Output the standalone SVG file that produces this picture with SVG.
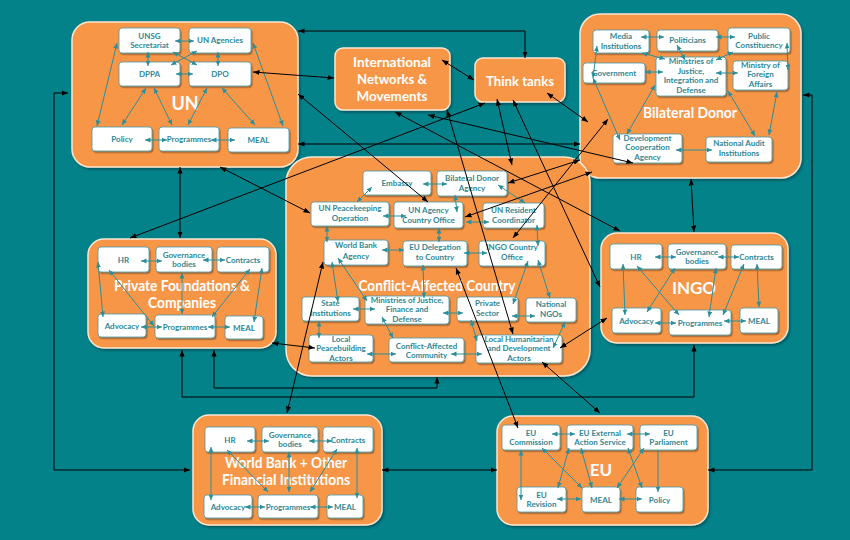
<svg xmlns="http://www.w3.org/2000/svg" width="850" height="540" viewBox="0 0 850 540">
<style>
.bg{fill:#03828A}
.box{fill:#F79646;stroke:#FDE6D2;stroke-width:1.5;filter:url(#shb)}
.ob{fill:#F79646;stroke:#FDE6D2;stroke-width:1.5}
.n{fill:#fff;stroke:#4A97A2;stroke-width:0.8;filter:url(#sh)}
.t{font-family:Lato,"Liberation Sans",sans-serif;font-weight:bold;font-size:8px;fill:#2F8796;text-anchor:middle}
.lbl{font-family:Lato,"Liberation Sans",sans-serif;font-weight:bold;fill:#fff;text-anchor:middle}
.tc{stroke:#2B8E99;stroke-width:1;fill:none;marker-start:url(#ta);marker-end:url(#ta)}
.tc1{stroke:#2B8E99;stroke-width:1;fill:none;marker-end:url(#ta)}
.bc{stroke:#000;stroke-width:1;fill:none;marker-start:url(#ba);marker-end:url(#ba)}
</style>
<defs>
<marker id="ta" viewBox="0 0 10 10" refX="10" refY="5" markerWidth="5.5" markerHeight="5.5" markerUnits="userSpaceOnUse" orient="auto-start-reverse"><path d="M0,0.5 L10,5 L0,9.5 z" fill="#2B8E99"/></marker>
<marker id="ba" viewBox="0 0 10 10" refX="10" refY="5" markerWidth="6.5" markerHeight="6.5" markerUnits="userSpaceOnUse" orient="auto-start-reverse"><path d="M0,1 L10,5 L0,9 z" fill="#000"/></marker>
<filter id="sh" x="-15%" y="-15%" width="135%" height="150%"><feDropShadow dx="1.2" dy="1.5" stdDeviation="0.7" flood-color="#000" flood-opacity="0.35"/></filter>
<filter id="shb" x="-5%" y="-5%" width="112%" height="115%"><feDropShadow dx="1.5" dy="2" stdDeviation="1.2" flood-color="#000" flood-opacity="0.3"/></filter>
</defs>
<rect class="bg" x="0" y="0" width="850" height="540"/>

<!-- UN -->
<g id="un">
<rect class="box" x="72" y="22" width="226" height="145" rx="18"/>
<text class="lbl" x="185" y="110" font-size="18">UN</text>
<g id="un-unsg"><rect class="n" x="119" y="28" width="61" height="25" rx="3"/><text class="t"><tspan x="149.5" y="38.5">UNSG</tspan><tspan x="149.5" y="48">Secretariat</tspan></text></g>
<g id="un-agencies"><rect class="n" x="189" y="28" width="62" height="25" rx="3"/><text class="t" x="220" y="43.2">UN Agencies</text></g>
<g id="un-dppa"><rect class="n" x="119" y="62" width="61" height="24" rx="3"/><text class="t" x="149.5" y="76.7">DPPA</text></g>
<g id="un-dpo"><rect class="n" x="189" y="62" width="62" height="24" rx="3"/><text class="t" x="220" y="76.7">DPO</text></g>
<g id="un-policy"><rect class="n" x="92" y="127" width="60" height="24" rx="3"/><text class="t" x="122" y="141.7">Policy</text></g>
<g id="un-programmes"><rect class="n" x="159" y="127" width="60" height="24" rx="3"/><text class="t" x="189" y="141.7">Programmes</text></g>
<g id="un-meal"><rect class="n" x="228" y="128" width="61" height="24" rx="3"/><text class="t" x="258.5" y="142.7">MEAL</text></g>
</g>

<!-- International Networks -->
<g id="inm">
<rect class="ob" x="335" y="48" width="115" height="62" rx="8" filter="url(#shb)"/>
<text class="lbl" font-size="13.5"><tspan x="392" y="67" textLength="78" lengthAdjust="spacingAndGlyphs">International</tspan><tspan x="392" y="84" textLength="70" lengthAdjust="spacingAndGlyphs">Networks &amp;</tspan><tspan x="392" y="101" textLength="71" lengthAdjust="spacingAndGlyphs">Movements</tspan></text>
</g>

<!-- Think tanks -->
<g id="thinktanks">
<rect class="ob" x="475" y="58" width="90" height="44" rx="8" filter="url(#shb)"/>
<text class="lbl" x="520" y="86" font-size="13.5" textLength="68" lengthAdjust="spacingAndGlyphs">Think tanks</text>
</g>

<!-- Bilateral Donor -->
<g id="bd">
<rect class="box" x="580" y="14" width="221" height="164" rx="20"/>
<text class="lbl" x="690" y="118" font-size="15" textLength="94" lengthAdjust="spacingAndGlyphs">Bilateral Donor</text>
<g id="bd-media"><rect class="n" x="593" y="30" width="56" height="23" rx="3"/><text class="t"><tspan x="621" y="39">Media</tspan><tspan x="621" y="48.5">Institutions</tspan></text></g>
<g id="bd-politicians"><rect class="n" x="657" y="30" width="61" height="21" rx="3"/><text class="t" x="687.5" y="43.2">Politicians</text></g>
<g id="bd-public"><rect class="n" x="728" y="28" width="62" height="25" rx="3"/><text class="t"><tspan x="759" y="38.5">Public</tspan><tspan x="759" y="48">Constituency</tspan></text></g>
<g id="bd-government"><rect class="n" x="583" y="63" width="62" height="20" rx="3"/><text class="t" x="614" y="75.7">Government</text></g>
<g id="bd-ministries"><rect class="n" x="656" y="57" width="70" height="39" rx="3"/><text class="t"><tspan x="691" y="64.4">Ministries of</tspan><tspan x="691" y="73.8">Justice,</tspan><tspan x="691" y="83.2">Integration and</tspan><tspan x="691" y="92.6">Defense</tspan></text></g>
<g id="bd-mfa"><rect class="n" x="733" y="61" width="55" height="29" rx="3"/><text class="t"><tspan x="760.5" y="67.7">Ministry of</tspan><tspan x="760.5" y="77.2">Foreign</tspan><tspan x="760.5" y="86.7">Affairs</tspan></text></g>
<g id="bd-devcoop"><rect class="n" x="613" y="134" width="69" height="29" rx="3"/><text class="t"><tspan x="647.5" y="140.7">Development</tspan><tspan x="647.5" y="150.2">Cooperation</tspan><tspan x="647.5" y="159.7">Agency</tspan></text></g>
<g id="bd-audit"><rect class="n" x="706" y="137" width="66" height="25" rx="3"/><text class="t"><tspan x="739" y="145.7">National Audit</tspan><tspan x="739" y="155.5">Institutions</tspan></text></g>
</g>

<!-- Conflict-Affected Country -->
<g id="cac">
<rect class="box" x="286" y="157" width="304" height="219" rx="26"/>
<text class="lbl" x="437" y="291" font-size="16" textLength="157" lengthAdjust="spacingAndGlyphs">Conflict-Affected Country</text>
<g id="cac-embassy"><rect class="n" x="363" y="171" width="68" height="24" rx="3"/><text class="t" x="397" y="185.7">Embassy</text></g>
<g id="cac-bda"><rect class="n" x="437" y="171" width="70" height="25" rx="3"/><text class="t"><tspan x="472" y="180.7">Bilateral Donor</tspan><tspan x="472" y="190.5">Agency</tspan></text></g>
<g id="cac-unpk"><rect class="n" x="311" y="202" width="78" height="24" rx="3"/><text class="t"><tspan x="350" y="210.7">UN Peacekeeping</tspan><tspan x="350" y="220.5">Operation</tspan></text></g>
<g id="cac-unaco"><rect class="n" x="394" y="202" width="69" height="26" rx="3"/><text class="t"><tspan x="428.5" y="212.7">UN Agency</tspan><tspan x="428.5" y="222.5">Country Office</tspan></text></g>
<g id="cac-unrc"><rect class="n" x="483" y="203" width="61" height="25" rx="3"/><text class="t"><tspan x="513.5" y="213">UN Resident</tspan><tspan x="513.5" y="223">Coordinator</tspan></text></g>
<g id="cac-wba"><rect class="n" x="324" y="240" width="64" height="25" rx="3"/><text class="t"><tspan x="356" y="248.4">World Bank</tspan><tspan x="356" y="258.5">Agency</tspan></text></g>
<g id="cac-eudel"><rect class="n" x="403" y="241" width="64" height="25" rx="3"/><text class="t"><tspan x="435" y="249.5">EU Delegation</tspan><tspan x="435" y="259.5">to Country</tspan></text></g>
<g id="cac-ingoco"><rect class="n" x="479" y="241" width="66" height="25" rx="3"/><text class="t"><tspan x="512" y="249.5">INGO Country</tspan><tspan x="512" y="259.5">Office</tspan></text></g>
<g id="cac-state"><rect class="n" x="302" y="297" width="57" height="24" rx="3"/><text class="t"><tspan x="330.5" y="305.7">State</tspan><tspan x="330.5" y="315.5">Institutions</tspan></text></g>
<g id="cac-mjfd"><rect class="n" x="365" y="296" width="84" height="28" rx="3"/><text class="t"><tspan x="407" y="302.7">Ministries of Justice,</tspan><tspan x="407" y="312.2">Finance and</tspan><tspan x="407" y="321.7">Defense</tspan></text></g>
<g id="cac-private"><rect class="n" x="457" y="297" width="61" height="24" rx="3"/><text class="t"><tspan x="487.5" y="305.7">Private</tspan><tspan x="487.5" y="315.5">Sector</tspan></text></g>
<g id="cac-ngos"><rect class="n" x="526" y="298" width="50" height="24" rx="3"/><text class="t"><tspan x="551" y="306.7">National</tspan><tspan x="551" y="316.5">NGOs</tspan></text></g>
<g id="cac-lpb"><rect class="n" x="309" y="335" width="64" height="27" rx="3"/><text class="t"><tspan x="341" y="341.7">Local</tspan><tspan x="341" y="351.2">Peacebuilding</tspan><tspan x="341" y="360.5">Actors</tspan></text></g>
<g id="cac-community"><rect class="n" x="389" y="338" width="75" height="24" rx="3"/><text class="t"><tspan x="426.5" y="348.5">Conflict-Affected</tspan><tspan x="426.5" y="358">Community</tspan></text></g>
<g id="cac-lhda"><rect class="n" x="476" y="335" width="86" height="28" rx="3"/><text class="t"><tspan x="519" y="341.5">Local Humanitarian</tspan><tspan x="519" y="351.2">and Development</tspan><tspan x="519" y="360.7">Actors</tspan></text></g>
</g>

<!-- Private Foundations -->
<g id="pf">
<rect class="box" x="88" y="239" width="188" height="109" rx="16"/>
<text class="lbl" font-size="15"><tspan x="182" y="291" textLength="136" lengthAdjust="spacingAndGlyphs">Private Foundations &amp;</tspan><tspan x="182" y="308" textLength="68" lengthAdjust="spacingAndGlyphs">Companies</tspan></text>
<g id="pf-hr"><rect class="n" x="98" y="247" width="51" height="25" rx="3"/><text class="t" x="123.5" y="262.5">HR</text></g>
<g id="pf-gov"><rect class="n" x="156" y="247" width="56" height="25" rx="3"/><text class="t"><tspan x="184" y="257.5">Governance</tspan><tspan x="184" y="267">bodies</tspan></text></g>
<g id="pf-contracts"><rect class="n" x="217" y="247" width="52" height="25" rx="3"/><text class="t" x="243" y="262.5">Contracts</text></g>
<g id="pf-advocacy"><rect class="n" x="98" y="314" width="48" height="23" rx="3"/><text class="t" x="122" y="328.5">Advocacy</text></g>
<g id="pf-programmes"><rect class="n" x="155" y="315" width="60" height="23" rx="3"/><text class="t" x="185" y="329.5">Programmes</text></g>
<g id="pf-meal"><rect class="n" x="225" y="316" width="38" height="23" rx="3"/><text class="t" x="244" y="330.5">MEAL</text></g>
</g>

<!-- INGO -->
<g id="ingo">
<rect class="box" x="601" y="233" width="187" height="110" rx="16"/>
<text class="lbl" x="694" y="294" font-size="17">INGO</text>
<g id="ingo-hr"><rect class="n" x="610" y="244" width="52" height="25" rx="3"/><text class="t" x="636" y="259.5">HR</text></g>
<g id="ingo-gov"><rect class="n" x="668" y="244" width="58" height="25" rx="3"/><text class="t"><tspan x="697" y="254.5">Governance</tspan><tspan x="697" y="264">bodies</tspan></text></g>
<g id="ingo-contracts"><rect class="n" x="731" y="245" width="51" height="24" rx="3"/><text class="t" x="756.5" y="260">Contracts</text></g>
<g id="ingo-advocacy"><rect class="n" x="612" y="308" width="49" height="25" rx="3"/><text class="t" x="636.5" y="323.5">Advocacy</text></g>
<g id="ingo-programmes"><rect class="n" x="669" y="310" width="62" height="25" rx="3"/><text class="t" x="700" y="325.5">Programmes</text></g>
<g id="ingo-meal"><rect class="n" x="740" y="308" width="38" height="25" rx="3"/><text class="t" x="759" y="323.5">MEAL</text></g>
</g>

<!-- World Bank -->
<g id="wb">
<rect class="box" x="193" y="415" width="189" height="110" rx="16"/>
<text class="lbl" font-size="15"><tspan x="286" y="468" textLength="122" lengthAdjust="spacingAndGlyphs">World Bank + Other</tspan><tspan x="286" y="485" textLength="128" lengthAdjust="spacingAndGlyphs">Financial Institutions</tspan></text>
<g id="wb-hr"><rect class="n" x="205" y="427" width="50" height="25" rx="3"/><text class="t" x="230" y="442.5">HR</text></g>
<g id="wb-gov"><rect class="n" x="262" y="427" width="56" height="25" rx="3"/><text class="t"><tspan x="290" y="437.5">Governance</tspan><tspan x="290" y="447">bodies</tspan></text></g>
<g id="wb-contracts"><rect class="n" x="323" y="427" width="50" height="25" rx="3"/><text class="t" x="348" y="442.5">Contracts</text></g>
<g id="wb-advocacy"><rect class="n" x="204" y="495" width="48" height="23" rx="3"/><text class="t" x="228" y="509.5">Advocacy</text></g>
<g id="wb-programmes"><rect class="n" x="258" y="495" width="60" height="23" rx="3"/><text class="t" x="288" y="509.5">Programmes</text></g>
<g id="wb-meal"><rect class="n" x="327" y="495" width="36" height="23" rx="3"/><text class="t" x="345" y="509.5">MEAL</text></g>
</g>

<!-- EU -->
<g id="eu">
<rect class="box" x="497" y="416" width="211" height="109" rx="16"/>
<text class="lbl" x="601" y="476" font-size="17">EU</text>
<g id="eu-commission"><rect class="n" x="502" y="425" width="58" height="25" rx="3"/><text class="t"><tspan x="531" y="435.5">EU</tspan><tspan x="531" y="445">Commission</tspan></text></g>
<g id="eu-eeas"><rect class="n" x="567" y="425" width="66" height="25" rx="3"/><text class="t"><tspan x="600" y="435.5">EU External</tspan><tspan x="600" y="445">Action Service</tspan></text></g>
<g id="eu-parliament"><rect class="n" x="640" y="425" width="57" height="25" rx="3"/><text class="t"><tspan x="668.5" y="435.5">EU</tspan><tspan x="668.5" y="445">Parliament</tspan></text></g>
<g id="eu-revision"><rect class="n" x="517" y="487" width="49" height="25" rx="3"/><text class="t"><tspan x="541.5" y="497.5">EU</tspan><tspan x="541.5" y="507">Revision</tspan></text></g>
<g id="eu-meal"><rect class="n" x="582" y="487" width="38" height="25" rx="3"/><text class="t" x="601" y="502.5">MEAL</text></g>
<g id="eu-policy"><rect class="n" x="636" y="487" width="47" height="25" rx="3"/><text class="t" x="659.5" y="502.5">Policy</text></g>
</g>

<g id="connectors">
<g id="inner-connectors">
<!-- UN -->
<path class="tc" d="M175,41 H194"/>
<path class="tc" d="M148,52 V66"/>
<path class="tc" d="M218,52 V66"/>
<path class="tc" d="M173,52 L197,65"/>
<path class="tc" d="M197,51 L171,65"/>
<path class="tc" d="M176,74 H193"/>
<path class="tc" d="M117,43 L97,126"/>
<path class="tc" d="M253,43 L283,126"/>
<path class="tc" d="M146,88 L122,125"/>
<path class="tc" d="M154,88 L172,125"/>
<path class="tc" d="M207,88 L188,125"/>
<path class="tc" d="M222,88 L255,125"/>
<path class="tc" d="M145,140 H167"/>
<path class="tc" d="M211,140 H235"/>
<!-- Bilateral -->
<path class="tc" d="M641,37 H664"/>
<path class="tc" d="M716,37 H735"/>
<path class="tc" d="M597,46 L593,78"/>
<path class="tc" d="M642,53 L665,59"/>
<path class="tc" d="M677,45 L685,60"/>
<path class="tc" d="M733,52 L716,60"/>
<path class="tc" d="M787,43 L788,70"/>
<path class="tc" d="M645,72 H663"/>
<path class="tc" d="M716,73 H738"/>
<path class="tc" d="M593,78 L620,140"/>
<path class="tc" d="M655,85 L627,134"/>
<path class="tc" d="M728,91 L755,136"/>
<path class="tc" d="M777,92 L769,135"/>
<path class="tc" d="M676,150 H712"/>
<!-- Conflict -->
<path class="tc" d="M423,184 H447"/>
<path class="tc" d="M372,187 L357,202"/>
<path class="tc" d="M455,195 L457,212"/>
<path class="tc" d="M498,185 L525,203"/>
<path class="tc" d="M383,216 H406"/>
<path class="tc" d="M466,222 H489"/>
<path class="tc" d="M327,226 V242"/>
<path class="tc" d="M439,228 V242"/>
<path class="tc" d="M537,225 L538,246"/>
<path class="tc" d="M382,250 H404"/>
<path class="tc" d="M464,253 H487"/>
<path class="tc" d="M332,262 L338,302"/>
<path class="tc" d="M338,258 L367,301"/>
<path class="tc" d="M423,265 L424,298"/>
<path class="tc" d="M528,261 L513,304"/>
<path class="tc" d="M538,260 L550,298"/>
<path class="tc" d="M353,309 H375"/>
<path class="tc" d="M443,313 H463"/>
<path class="tc" d="M512,316 H535"/>
<path class="tc" d="M319,321 V338"/>
<path class="tc" d="M382,317 L393,338"/>
<path class="tc" d="M471,320 L477,341"/>
<path class="tc" d="M565,322 L553,348"/>
<path class="tc" d="M367,354 H396"/>
<path class="tc" d="M451,354 H482"/>
<!-- PF -->
<path class="tc" d="M141,261 H162"/>
<path class="tc" d="M203,260 H225"/>
<path class="tc" d="M98,262 L103,317"/>
<path class="tc" d="M109,270 L154,326"/>
<path class="tc" d="M182,273 V314"/>
<path class="tc" d="M250,269 L212,317"/>
<path class="tc" d="M262,268 L254,322"/>
<path class="tc" d="M141,327 H162"/>
<path class="tc" d="M208,327 H230"/>
<!-- INGO -->
<path class="tc" d="M655,257 H676"/>
<path class="tc" d="M718,257 H739"/>
<path class="tc" d="M623,264 L625,315"/>
<path class="tc" d="M637,266 L679,315"/>
<path class="tc" d="M675,268 L647,312"/>
<path class="tc" d="M716,268 L709,317"/>
<path class="tc" d="M744,264 L723,315"/>
<path class="tc" d="M757,264 L759,307"/>
<path class="tc" d="M655,323 H676"/>
<path class="tc" d="M724,321 H746"/>
<!-- WB -->
<path class="tc" d="M247,441 H269"/>
<path class="tc" d="M309,441 H332"/>
<path class="tc" d="M211,447 V500"/>
<path class="tc" d="M227,450 L268,492"/>
<path class="tc" d="M289,452 V492"/>
<path class="tc" d="M337,449 L310,492"/>
<path class="tc" d="M357,448 V498"/>
<path class="tc" d="M245,507 H265"/>
<path class="tc" d="M310,507 H333"/>
<!-- EU -->
<path class="tc" d="M552,434 H575"/>
<path class="tc" d="M627,434 H650"/>
<path class="tc" d="M521,450 V500"/>
<path class="tc" d="M542,448 L582,488"/>
<path class="tc" d="M569,448 L558,488"/>
<path class="tc" d="M581,448 L592,488"/>
<path class="tc" d="M628,448 L642,488"/>
<path class="tc" d="M644,448 L617,488"/>
<path class="tc1" d="M658,450 V492"/>
<path class="tc" d="M557,499 H581"/>
<path class="tc" d="M619,499 H642"/>
</g>
<g id="outer-connectors">
<path class="bc" d="M68,93 H54 V470 H190"/>
<path class="bc" d="M803,95 H812 V470 H708"/>
<path class="bc" d="M180,167 V238"/>
<path class="bc" d="M691,179 L694,232"/>
<path class="bc" d="M298,31 H525 V58"/>
<path class="bc" d="M253,72 L334,78"/>
<path class="bc" d="M298,94 L428,202"/>
<path class="bc" d="M298,144 H580"/>
<path class="bc" d="M220,167 L310,213"/>
<path class="bc" d="M442,60 L474,80"/>
<path class="bc" d="M547,93 L588,122"/>
<path class="bc" d="M497,99 L512,165"/>
<path class="bc" d="M513,100 L600,287"/>
<path class="bc" d="M395,112 L620,231"/>
<path class="bc" d="M428,115 L633,163"/>
<path class="bc" d="M447,110 L513,334"/>
<path class="bc" d="M485,103 L130,238"/>
<path class="bc" d="M513,238 L608,119"/>
<path class="bc" d="M508,183 L580,160"/>
<path class="bc" d="M465,217 L592,172"/>
<path class="bc" d="M607,318 L560,348"/>
<path class="bc" d="M542,362 L600,413"/>
<path class="bc" d="M182,350 V397 H694 V345"/>
<path class="bc" d="M214,350 V388 H437 V377"/>
<path class="bc" d="M323,262 L287,413"/>
<path class="bc" d="M456,268 L518,428"/>
<path class="bc" d="M272,343 L315,348"/>
<path class="bc" d="M382,470 H497"/>
</g>
</g>
</svg>
